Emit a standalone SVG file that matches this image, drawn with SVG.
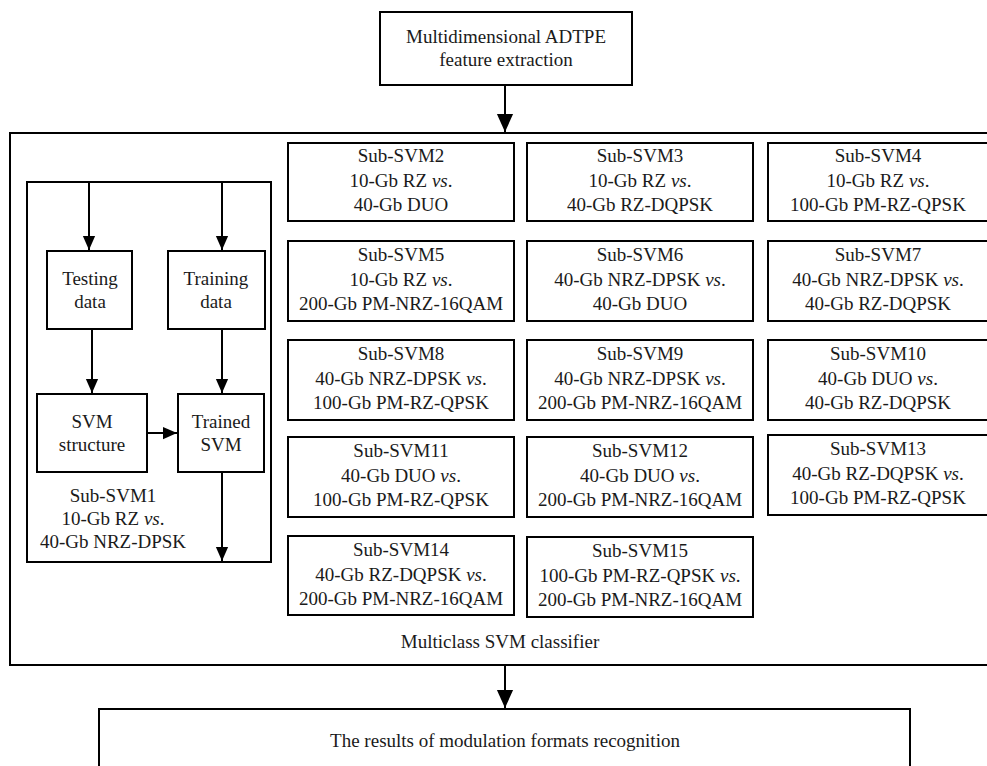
<svg xmlns="http://www.w3.org/2000/svg" width="987" height="766" viewBox="0 0 987 766">
<style>
rect{fill:#fff;stroke:#000;stroke-width:2}
text{font-family:"Liberation Serif","Times New Roman",serif;font-size:19px;fill:#1a1a1a;text-anchor:middle}
.c{stroke:#000;stroke-width:2;fill:none}
</style>
<defs>
<marker id="a" markerUnits="userSpaceOnUse" markerWidth="14" markerHeight="16" refX="16" refY="7" orient="auto" viewBox="0 0 16 14"><path d="M0,0L16,7L0,14Z" fill="#000"/></marker>
<marker id="b" markerUnits="userSpaceOnUse" markerWidth="18" markerHeight="20" refX="20" refY="9" orient="auto" viewBox="0 0 20 18"><path d="M0,0L20,9L0,18Z" fill="#000"/></marker>
</defs>
<g id="top"><rect x="380" y="12" width="252" height="73"/><text x="506" y="43">Multidimensional ADTPE</text><text x="506" y="66">feature extraction</text></g>
<g id="multiclass"><rect x="10" y="133" width="1000" height="532"/><text x="500" y="648">Multiclass SVM classifier</text></g>
<g id="results"><rect x="99" y="709" width="811" height="80"/><text x="505" y="747">The results of modulation formats recognition</text></g>
<g id="sub1"><rect x="27" y="182" width="244" height="380"/><text x="113" y="502">Sub-SVM1</text><text x="113" y="525">10-Gb RZ <tspan font-style="italic">vs</tspan>.</text><text x="113" y="548">40-Gb NRZ-DPSK</text></g>
<g id="testing"><rect x="47" y="251" width="85" height="78"/><text x="90" y="285">Testing</text><text x="90" y="308">data</text></g>
<g id="training"><rect x="168" y="251" width="97" height="78"/><text x="216" y="285">Training</text><text x="216" y="308">data</text></g>
<g id="svmstruct"><rect x="37" y="394" width="110" height="78"/><text x="92" y="428">SVM</text><text x="92" y="451">structure</text></g>
<g id="trained"><rect x="178" y="394" width="86" height="78"/><text x="221" y="428">Trained</text><text x="221" y="451">SVM</text></g>
<g id="sub2"><rect x="288" y="143" width="226" height="78"/><text x="401" y="162">Sub-SVM2</text><text x="401" y="187">10-Gb RZ <tspan font-style="italic">vs</tspan>.</text><text x="401" y="211">40-Gb DUO</text></g>
<g id="sub3"><rect x="527" y="143" width="226" height="78"/><text x="640" y="162">Sub-SVM3</text><text x="640" y="187">10-Gb RZ <tspan font-style="italic">vs</tspan>.</text><text x="640" y="211">40-Gb RZ-DQPSK</text></g>
<g id="sub4"><rect x="768" y="143" width="240" height="78"/><text x="878" y="162">Sub-SVM4</text><text x="878" y="187">10-Gb RZ <tspan font-style="italic">vs</tspan>.</text><text x="878" y="211">100-Gb PM-RZ-QPSK</text></g>
<g id="sub5"><rect x="288" y="241" width="226" height="80"/><text x="401" y="261">Sub-SVM5</text><text x="401" y="286">10-Gb RZ <tspan font-style="italic">vs</tspan>.</text><text x="401" y="310">200-Gb PM-NRZ-16QAM</text></g>
<g id="sub6"><rect x="527" y="241" width="226" height="80"/><text x="640" y="261">Sub-SVM6</text><text x="640" y="286">40-Gb NRZ-DPSK <tspan font-style="italic">vs</tspan>.</text><text x="640" y="310">40-Gb DUO</text></g>
<g id="sub7"><rect x="768" y="241" width="240" height="80"/><text x="878" y="261">Sub-SVM7</text><text x="878" y="286">40-Gb NRZ-DPSK <tspan font-style="italic">vs</tspan>.</text><text x="878" y="310">40-Gb RZ-DQPSK</text></g>
<g id="sub8"><rect x="288" y="340" width="226" height="80"/><text x="401" y="360">Sub-SVM8</text><text x="401" y="385">40-Gb NRZ-DPSK <tspan font-style="italic">vs</tspan>.</text><text x="401" y="409">100-Gb PM-RZ-QPSK</text></g>
<g id="sub9"><rect x="527" y="340" width="226" height="80"/><text x="640" y="360">Sub-SVM9</text><text x="640" y="385">40-Gb NRZ-DPSK <tspan font-style="italic">vs</tspan>.</text><text x="640" y="409">200-Gb PM-NRZ-16QAM</text></g>
<g id="sub10"><rect x="768" y="340" width="240" height="80"/><text x="878" y="360">Sub-SVM10</text><text x="878" y="385">40-Gb DUO <tspan font-style="italic">vs</tspan>.</text><text x="878" y="409">40-Gb RZ-DQPSK</text></g>
<g id="sub11"><rect x="288" y="437" width="226" height="80"/><text x="401" y="457">Sub-SVM11</text><text x="401" y="482">40-Gb DUO <tspan font-style="italic">vs</tspan>.</text><text x="401" y="506">100-Gb PM-RZ-QPSK</text></g>
<g id="sub12"><rect x="527" y="437" width="226" height="80"/><text x="640" y="457">Sub-SVM12</text><text x="640" y="482">40-Gb DUO <tspan font-style="italic">vs</tspan>.</text><text x="640" y="506">200-Gb PM-NRZ-16QAM</text></g>
<g id="sub13"><rect x="768" y="435" width="240" height="80"/><text x="878" y="455">Sub-SVM13</text><text x="878" y="480">40-Gb RZ-DQPSK <tspan font-style="italic">vs</tspan>.</text><text x="878" y="504">100-Gb PM-RZ-QPSK</text></g>
<g id="sub14"><rect x="288" y="536" width="226" height="79"/><text x="401" y="556">Sub-SVM14</text><text x="401" y="581">40-Gb RZ-DQPSK <tspan font-style="italic">vs</tspan>.</text><text x="401" y="605">200-Gb PM-NRZ-16QAM</text></g>
<g id="sub15"><rect x="527" y="537" width="226" height="80"/><text x="640" y="557">Sub-SVM15</text><text x="640" y="582">100-Gb PM-RZ-QPSK <tspan font-style="italic">vs</tspan>.</text><text x="640" y="606">200-Gb PM-NRZ-16QAM</text></g>
<g id="connectors">
<line class="c" x1="505" y1="85" x2="505" y2="132" marker-end="url(#b)"/>
<line class="c" x1="505" y1="665" x2="505" y2="708" marker-end="url(#b)"/>
<line class="c" x1="89" y1="182" x2="89" y2="250" marker-end="url(#a)"/>
<line class="c" x1="222" y1="182" x2="222" y2="250" marker-end="url(#a)"/>
<line class="c" x1="92" y1="329" x2="92" y2="393" marker-end="url(#a)"/>
<line class="c" x1="222" y1="329" x2="222" y2="393" marker-end="url(#a)"/>
<line class="c" x1="147" y1="433" x2="177" y2="433" marker-end="url(#a)"/>
<line class="c" x1="222" y1="472" x2="222" y2="561" marker-end="url(#a)"/>
</g>
</svg>
